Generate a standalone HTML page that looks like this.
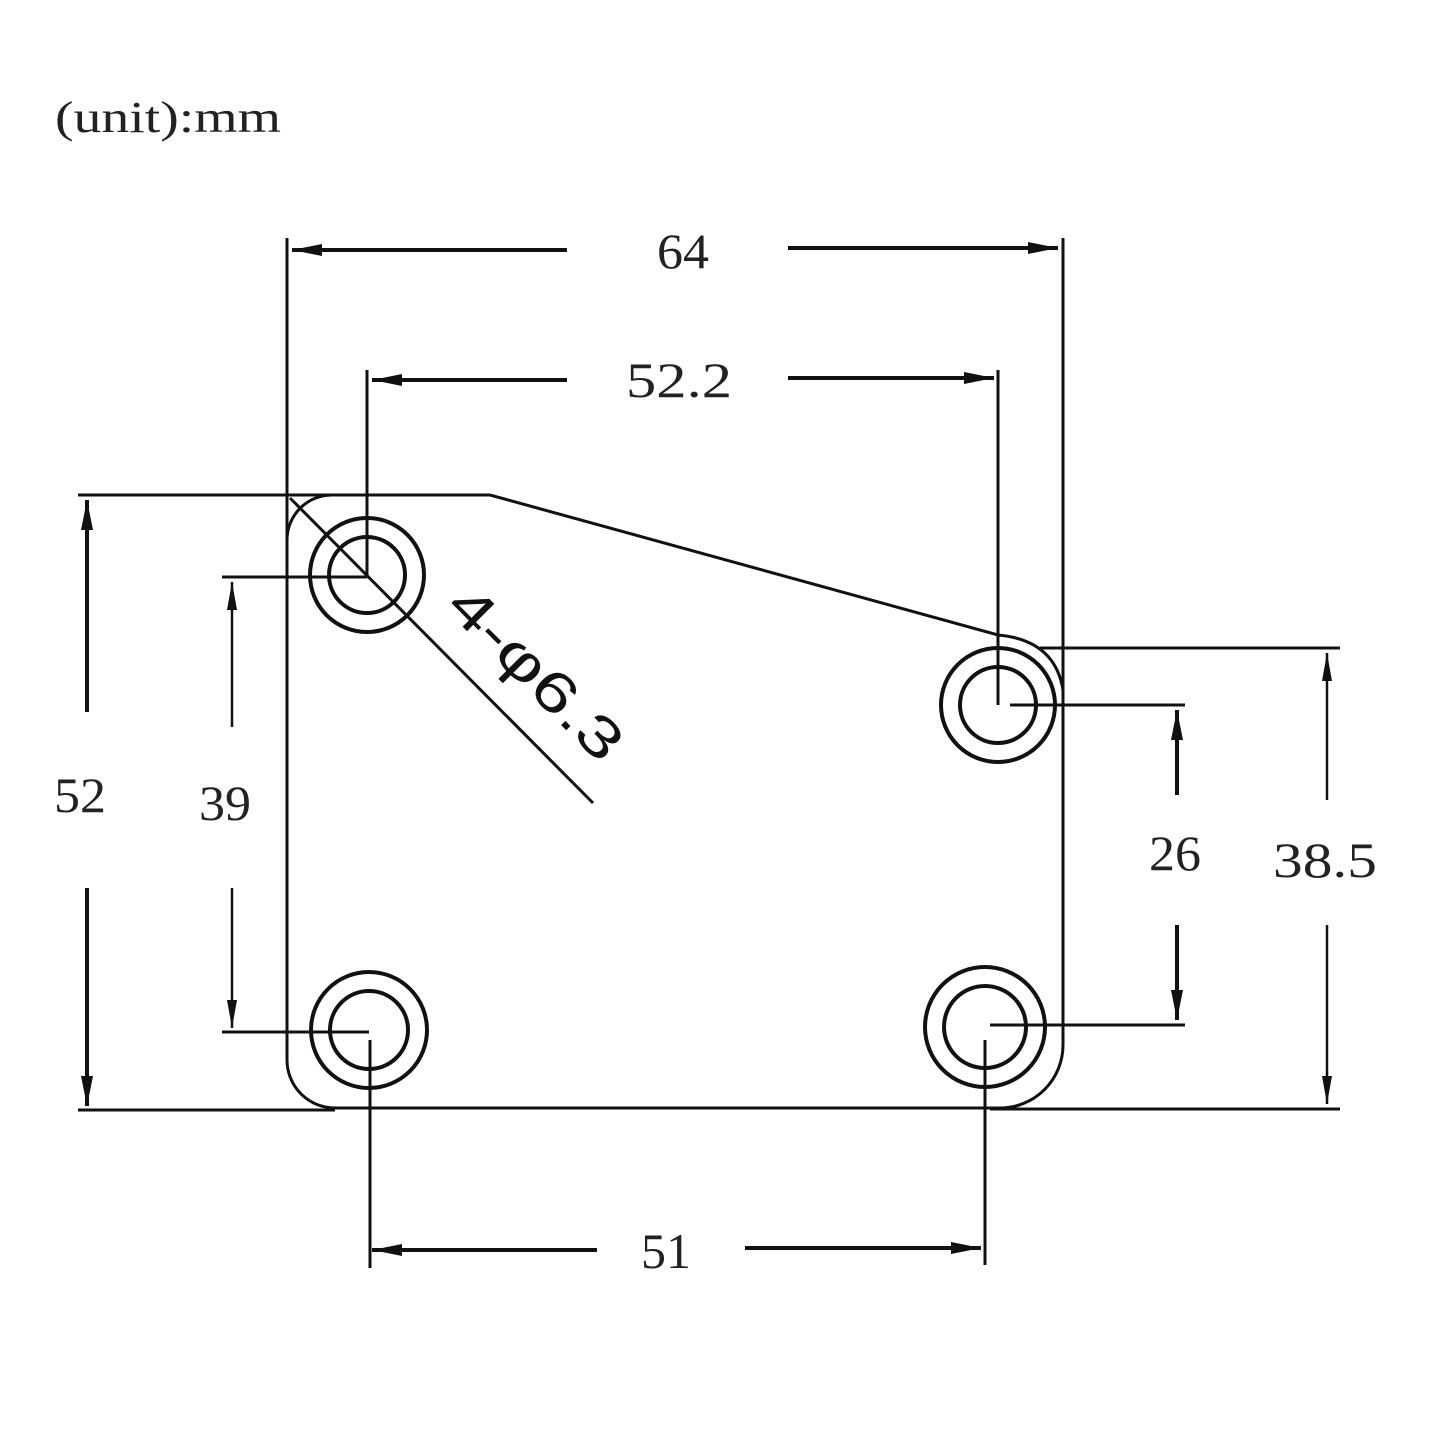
<!DOCTYPE html>
<html><head><meta charset="utf-8"><style>html,body{margin:0;padding:0;background:#fff}svg{display:block}</style></head>
<body>
<svg width="1445" height="1445" viewBox="0 0 1445 1445" xmlns="http://www.w3.org/2000/svg">
<g fill="none" stroke="#111">
<path stroke-width="3" d="M287,540 L287,1060 A48,48 0 0 0 335,1108 L1000,1108 A63,63 0 0 0 1063,1045 L1063,690 Q1055,640 998,635 L490,495 L78,495"/>
<path stroke-width="3" d="M287,540 A45,45 0 0 1 332,495"/>
<circle cx="367" cy="575" r="57" stroke-width="4"/><circle cx="367" cy="575" r="38" stroke-width="4"/>
<circle cx="998" cy="705" r="57" stroke-width="4"/><circle cx="998" cy="705" r="38" stroke-width="4"/>
<circle cx="369" cy="1030" r="58" stroke-width="4"/><circle cx="369" cy="1030" r="39" stroke-width="4"/>
<circle cx="985" cy="1027" r="60" stroke-width="4"/><circle cx="985" cy="1027" r="41" stroke-width="4"/>
<path stroke-width="3" d="M287,238 V540 M1063,238 V690 M367,370 V575 M998,370 V705 M222,577 H367 M222,1032 H369 M1010,705 H1185 M990,1025 H1185 M1040,648 H1340 M990,1109 H1340 M370,1040 V1268 M985,1040 V1265 M78,1110 H335"/>
<path stroke-width="3" d="M290,498 L593,803"/>
<g stroke-width="4">
<path d="M292,250 H567 M788,248 H1058"/>
<path d="M372,380 H567 M788,378 H994"/>
<path d="M372,1250 H597 M745,1248 H981"/>
<path d="M87,500 V712 M87,888 V1106"/>
<path d="M1177,710 V795 M1177,925 V1020"/>
</g>
<g stroke-width="2.5">
<path d="M232,582 V727 M232,888 V1028"/>
<path d="M1327,653 V800 M1327,925 V1104"/>
</g>
</g>
<g fill="#111">
<path d="M292,250 l30,-6 v12z M1058,248 l-30,-6 v12z M372,380 l30,-6 v12z M994,378 l-30,-6 v12z M372,1250 l30,-6 v12z M981,1248 l-30,-6 v12z M87,500 l-6,30 h12z M87,1106 l-6,-30 h12z M1177,710 l-6,30 h12z M1177,1020 l-6,-30 h12z M232,582 l-5,28 h10z M232,1028 l-5,-28 h10z M1327,653 l-5,28 h10z M1327,1104 l-5,-28 h10z"/>
</g>
<g font-family="Liberation Serif, serif" font-size="50" fill="#222" text-anchor="middle">
<text x="683" y="268" textLength="52" lengthAdjust="spacingAndGlyphs">64</text>
<text x="679" y="397" textLength="106" lengthAdjust="spacingAndGlyphs">52.2</text>
<text x="80" y="812" textLength="52" lengthAdjust="spacingAndGlyphs">52</text>
<text x="225" y="820" textLength="52" lengthAdjust="spacingAndGlyphs">39</text>
<text x="1175" y="870" textLength="52" lengthAdjust="spacingAndGlyphs">26</text>
<text x="1325" y="877" textLength="104" lengthAdjust="spacingAndGlyphs">38.5</text>
<text x="666" y="1268" textLength="50" lengthAdjust="spacingAndGlyphs">51</text>
</g>
<text x="55" y="132" font-family="Liberation Serif, serif" font-size="44" fill="#222" textLength="226" lengthAdjust="spacingAndGlyphs">(unit):mm</text>
<text transform="translate(444,608) rotate(45)" font-family="Liberation Sans, sans-serif" font-size="56" fill="#111" textLength="222" lengthAdjust="spacingAndGlyphs">4-φ6.3</text>
</svg>
</body></html>
